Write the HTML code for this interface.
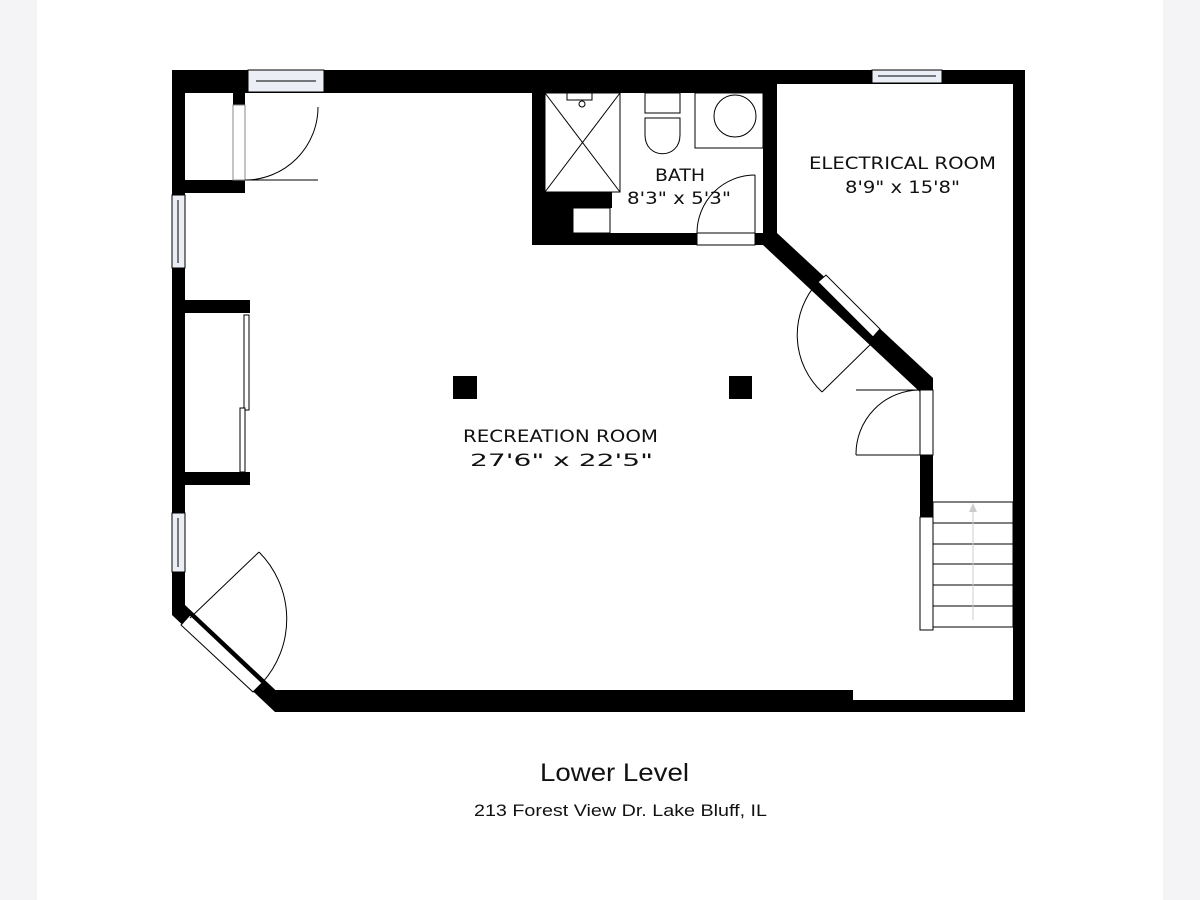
<!DOCTYPE html>
<html><head><style>
html,body{margin:0;padding:0;background:#f4f4f6;}
#pg{position:absolute;left:37px;top:0;width:1126px;height:900px;background:#fff;}
svg{position:absolute;left:0;top:0;}
text{font-family:"DejaVu Sans","Liberation Sans",sans-serif;fill:#111;}
</style></head><body>
<div id="pg"></div>
<svg width="1200" height="900" viewBox="0 0 1200 900">
<g fill="#000">
 <rect x="172" y="70" width="605" height="23"/>
 <rect x="763" y="70" width="262" height="14"/>
 <rect x="172" y="70" width="13" height="545"/>
 <rect x="1013" y="70" width="12" height="642"/>
 <rect x="275" y="690" width="578" height="22"/>
 <rect x="853" y="700" width="172" height="12"/>
 <polygon points="172,605 185,605 286,700 286,712 275,712 172,615"/>
 <rect x="532" y="70" width="13" height="175"/>
 <rect x="532" y="233" width="245" height="12"/>
 <rect x="532" y="192" width="80" height="16"/>
 <rect x="545" y="192" width="28" height="53"/>
 <rect x="763" y="70" width="14" height="175"/>
 <polygon points="770,233 777,233 933,378 933,392 920,392 763,245"/>
 <rect x="920" y="385" width="13" height="245"/>
 <rect x="185" y="180" width="60" height="13"/>
 <rect x="233" y="93" width="12" height="12"/>
 <rect x="185" y="300" width="65" height="13"/>
 <rect x="185" y="472" width="65" height="13"/>
 <rect x="453" y="376" width="24" height="23"/>
 <rect x="729" y="376" width="23" height="23"/>
</g>
<g fill="#fff" stroke="#000" stroke-width="1">
 <rect x="248" y="70" width="76" height="22" fill="#eceef6"/>
 <line x1="256" y1="81" x2="316" y2="81"/>
 <rect x="872" y="70" width="70" height="13" fill="#eceef6"/>
 <line x1="878" y1="76" x2="936" y2="76"/>
 <rect x="172" y="195" width="13" height="73" fill="#eceef6"/>
 <line x1="178" y1="200" x2="178" y2="263"/>
 <rect x="172" y="513" width="13" height="59" fill="#eceef6"/>
 <line x1="178" y1="518" x2="178" y2="567"/>
 <rect x="233" y="105" width="12" height="75" stroke="#888"/>
 <rect x="697" y="233" width="58" height="12"/>
 <rect x="920" y="390" width="13" height="65"/>
 <rect x="920" y="517" width="13" height="113"/>
 <polygon points="818,282 826,275 880,329 873,337"/>
 <polygon points="190,615 181,625 253,692 262,683"/>
 <rect x="244" y="315" width="5" height="95"/>
 <rect x="240" y="408" width="5" height="64"/>
 <rect x="545" y="93" width="75" height="99"/>
 <line x1="545" y1="93" x2="620" y2="192"/><line x1="620" y1="93" x2="545" y2="192"/>
 <rect x="567" y="93" width="25" height="7"/>
 <circle cx="582" cy="104" r="3"/>
 <rect x="573" y="208" width="37" height="25"/>
 <rect x="645" y="93" width="35" height="20"/>
 <path d="M645,118 L680,118 L680,135 C680,160 645,160 645,135 Z"/>
 <rect x="695" y="93" width="68" height="55"/>
 <circle cx="735" cy="116" r="21"/>
 <rect x="933" y="502" width="80" height="125"/>
</g>
<g stroke="#000" stroke-width="1" fill="none">
 <line x1="933" y1="523" x2="1013" y2="523"/><line x1="933" y1="544" x2="1013" y2="544"/>
 <line x1="933" y1="564" x2="1013" y2="564"/><line x1="933" y1="585" x2="1013" y2="585"/>
 <line x1="933" y1="606" x2="1013" y2="606"/>
 <line x1="973" y1="512" x2="973" y2="620" stroke="#ccc"/>
 <line x1="245" y1="180" x2="318" y2="180"/>
 <path d="M318,107 A73,73 0 0 1 245,180"/>
 <line x1="755" y1="175" x2="755" y2="233"/>
 <path d="M755,175 A58,58 0 0 0 697,233"/>
 <line x1="878" y1="337" x2="822" y2="392"/>
 <path d="M818,282 A78,78 0 0 0 822,392"/>
 <line x1="920" y1="390" x2="856" y2="390"/>
 <line x1="856" y1="455" x2="920" y2="455"/>
 <path d="M920,390 A64,64 0 0 0 856,455"/>
 <line x1="190" y1="618" x2="259" y2="552"/>
 <path d="M259,552 A95,95 0 0 1 262,683"/>
</g>
<polygon points="969,512 977,512 973,503" fill="#ccc"/>
<text x="655" y="181" font-size="17" textLength="50" lengthAdjust="spacingAndGlyphs">BATH</text>
<text x="627" y="204" font-size="17" textLength="104" lengthAdjust="spacingAndGlyphs">8'3" x 5'3"</text>
<text x="809" y="169" font-size="17" textLength="187" lengthAdjust="spacingAndGlyphs">ELECTRICAL ROOM</text>
<text x="845" y="193" font-size="17" textLength="115" lengthAdjust="spacingAndGlyphs">8'9" x 15'8"</text>
<text x="463" y="442" font-size="17" textLength="195" lengthAdjust="spacingAndGlyphs">RECREATION ROOM</text>
<text x="470" y="466" font-size="17" textLength="183" lengthAdjust="spacingAndGlyphs">27'6" x 22'5"</text>
<text x="540" y="781" font-size="25" textLength="149" lengthAdjust="spacingAndGlyphs" style="font-family:'Liberation Sans',sans-serif">Lower Level</text>
<text x="474" y="816" font-size="17" textLength="293" lengthAdjust="spacingAndGlyphs" style="font-family:'Liberation Sans',sans-serif">213 Forest View Dr. Lake Bluff, IL</text>
</svg>
</body></html>
